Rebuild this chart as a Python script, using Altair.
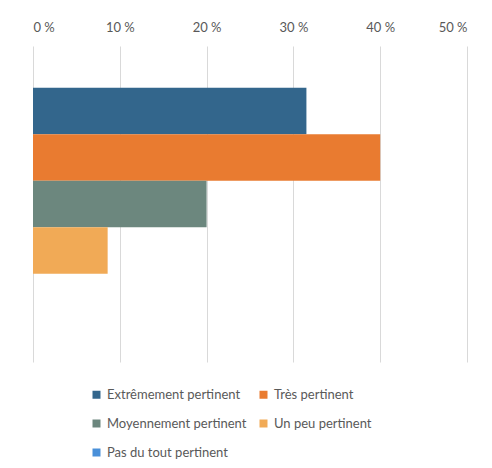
import altair as alt
import pandas as pd

categories = ["Extrêmement pertinent", "Très pertinent", "Moyennement pertinent",
              "Un peu pertinent", "Pas du tout pertinent"]
values = [31.5, 40.0, 20.0, 8.6, 0.0]
colors = ["#33668C", "#E97B30", "#6C877E", "#F1AA56", "#4A90D9"]
ticks = [0, 10, 20, 30, 40, 50]

df = pd.DataFrame({"cat": categories, "val": values})

# legend is filled column by column; reorder so it reads row by row
legend_order = [0, 2, 4, 1, 3]
legend_domain = [categories[i] for i in legend_order]
legend_range = [colors[i] for i in legend_order]

chart = alt.Chart(df).mark_bar().encode(
    x=alt.X("val:Q",
            scale=alt.Scale(domain=[0, 50], nice=False),
            axis=alt.Axis(orient="top", values=ticks, title=None,
                          labelExpr="datum.value + ' %'",
                          domain=False, ticks=False, labelPadding=12,
                          labelFont="Lato", labelFontSize=13, labelColor="#595959",
                          gridColor="#D9D9D9", gridWidth=1)),
    y=alt.Y("cat:N", sort=categories, axis=None,
            scale=alt.Scale(paddingInner=0, paddingOuter=0.9)),
    color=alt.Color("cat:N",
                    scale=alt.Scale(domain=legend_domain, range=legend_range),
                    legend=alt.Legend(title=None, orient="none", legendX=57, legendY=342,
                                      columns=2, columnPadding=10, rowPadding=15,
                                      padding=0,
                                      symbolType="square", symbolSize=64,
                                      symbolStrokeWidth=0, labelOffset=4,
                                      labelFont="Lato", labelFontSize=13,
                                      labelColor="#595959")),
).properties(
    width=434, height=316,
    autosize=alt.AutoSizeParams(type="none"),
    padding={"left": 25, "top": 38, "right": 9, "bottom": 98},
).configure_view(stroke=None)

chart.save("out.html", embed_options={"renderer": "svg", "actions": False})
